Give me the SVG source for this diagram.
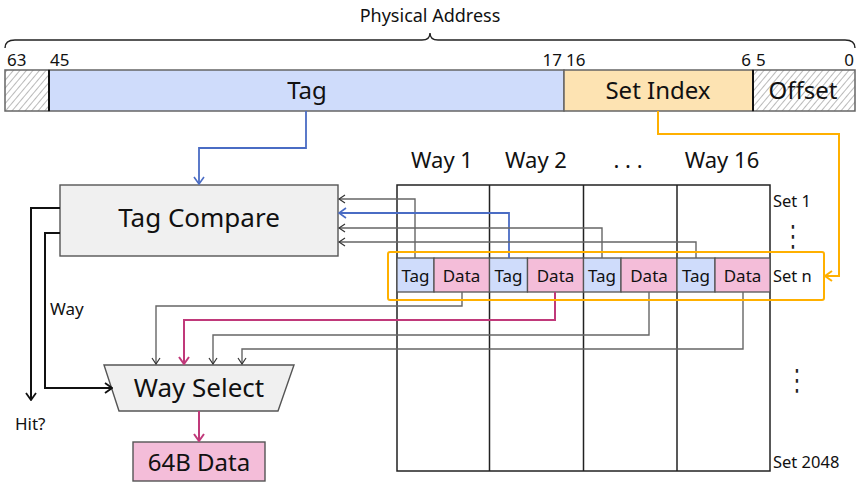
<svg xmlns="http://www.w3.org/2000/svg" width="858" height="482" viewBox="0 0 858 482">
  <style>
    text { font-family: "Noto Sans", "DejaVu Sans", sans-serif; fill: #111; }
    .mid { text-anchor: middle; }
    .end { text-anchor: end; }
    .bit { font-size: 17px; }
    .title { font-size: 18px; }
    .field { font-size: 24px; }
    .head { font-size: 22px; }
    .cell { font-size: 17px; }
    .set { font-size: 16.5px; }
    .dots { font-family: "DejaVu Sans", sans-serif; font-size: 21px; text-anchor: middle; fill: #222; }
    .lab { font-size: 17px; }
    .big { font-size: 26px; }
    .bar { stroke: #666; stroke-width: 1.5; }
    .grid { fill: none; stroke: #222; stroke-width: 1.5; }
    .gray { fill: none; stroke: #666; stroke-width: 1.4; }
    .blue { fill: none; stroke: #4a6cc4; stroke-width: 1.8; }
    .mag { fill: none; stroke: #c0397a; stroke-width: 2; }
    .blk { fill: none; stroke: #111; stroke-width: 2; }
    .org { fill: none; stroke: #ffb000; stroke-width: 2; }
  </style>
  <defs>
    <pattern id="hatch" patternUnits="userSpaceOnUse" width="5" height="5" patternTransform="rotate(40)">
      <line x1="0" y1="0" x2="0" y2="5" stroke="#666" stroke-width="0.9"/>
    </pattern>
    <marker id="aGray" markerUnits="userSpaceOnUse" viewBox="-8 -5 9 10" refX="0" refY="0" markerWidth="9" markerHeight="10" orient="auto">
      <path d="M-6,-4 L0,0 L-6,4" fill="none" stroke="#333" stroke-width="1.2"/>
    </marker>
    <marker id="aBlue" markerUnits="userSpaceOnUse" viewBox="-9 -6 10 12" refX="0" refY="0" markerWidth="10" markerHeight="12" orient="auto">
      <path d="M-7,-5 L0,0 L-7,5" fill="none" stroke="#4a6cc4" stroke-width="1.6"/>
    </marker>
    <marker id="aMag" markerUnits="userSpaceOnUse" viewBox="-9 -6 10 12" refX="0" refY="0" markerWidth="10" markerHeight="12" orient="auto">
      <path d="M-7,-5 L0,0 L-7,5" fill="none" stroke="#c0397a" stroke-width="2"/>
    </marker>
    <marker id="aBlk" markerUnits="userSpaceOnUse" viewBox="-9 -6 10 12" refX="0" refY="0" markerWidth="10" markerHeight="12" orient="auto">
      <path d="M-7,-5 L0,0 L-7,5" fill="none" stroke="#111" stroke-width="1.8"/>
    </marker>
    <marker id="aOrg" markerUnits="userSpaceOnUse" viewBox="-9 -6 10 12" refX="0" refY="0" markerWidth="10" markerHeight="12" orient="auto">
      <path d="M-7,-5 L0,0 L-7,5" fill="none" stroke="#ffb000" stroke-width="2"/>
    </marker>
  </defs>

  <!-- physical address layout -->
  <g id="address">
    <text class="title mid" x="430" y="22">Physical Address</text>
    <path d="M5,48 Q5,40 15,40 L422,40 Q430,40 430,33 Q430,40 438,40 L845,40 Q855,40 855,48" fill="none" stroke="#222" stroke-width="1.4"/>
    <text class="bit" x="7" y="66">63</text>
    <text class="bit" x="50" y="66">45</text>
    <text class="bit end" x="562" y="66">17</text>
    <text class="bit" x="566" y="66">16</text>
    <text class="bit end" x="751" y="66">6</text>
    <text class="bit" x="756" y="66">5</text>
    <text class="bit end" x="854" y="66">0</text>
  </g>
  <g id="field-unused">
    <rect class="bar" x="5" y="70" width="44" height="41" fill="url(#hatch)"/>
  </g>
  <g id="field-tag">
    <rect class="bar" x="49" y="70" width="515" height="41" fill="#cfdcfb"/>
    <text class="field mid" x="307" y="99">Tag</text>
  </g>
  <g id="field-set-index">
    <rect class="bar" x="564" y="70" width="189" height="41" fill="#fde3b2"/>
    <text class="field mid" x="658" y="99">Set Index</text>
  </g>
  <g id="field-offset">
    <rect class="bar" x="753" y="70" width="102" height="41" fill="url(#hatch)"/>
    <text class="field mid" x="803" y="99">Offset</text>
  </g>
  <line x1="49" y1="70" x2="49" y2="111" stroke="#111" stroke-width="2"/>
  <line x1="753" y1="70" x2="753" y2="111" stroke="#111" stroke-width="2"/>

  <!-- cache array: 16 ways x 2048 sets -->
  <g id="cache-array">
    <text class="head mid" x="442" y="168">Way 1</text>
    <text class="head mid" x="536" y="168">Way 2</text>
    <text class="head mid" x="628" y="168">. . .</text>
    <text class="head mid" x="722" y="168">Way 16</text>
    <rect class="grid" x="397" y="185" width="373" height="286"/>
    <line class="grid" x1="489.5" y1="185" x2="489.5" y2="471"/>
    <line class="grid" x1="583.5" y1="185" x2="583.5" y2="471"/>
    <line class="grid" x1="677" y1="185" x2="677" y2="471"/>
  </g>
  <g id="set-n">
    <g stroke="#555" stroke-width="1.3">
      <rect x="397" y="258" width="37" height="34" fill="#cfdcfb"/>
      <rect x="434" y="258" width="55.5" height="34" fill="#f4bdd9"/>
      <rect x="489.5" y="258" width="38" height="34" fill="#cfdcfb"/>
      <rect x="527.5" y="258" width="56" height="34" fill="#f4bdd9"/>
      <rect x="583.5" y="258" width="37.5" height="34" fill="#cfdcfb"/>
      <rect x="621" y="258" width="56" height="34" fill="#f4bdd9"/>
      <rect x="677" y="258" width="38" height="34" fill="#cfdcfb"/>
      <rect x="715" y="258" width="55" height="34" fill="#f4bdd9"/>
    </g>
    <text class="cell mid" x="415.5" y="282">Tag</text>
    <text class="cell mid" x="461.5" y="282">Data</text>
    <text class="cell mid" x="508.5" y="282">Tag</text>
    <text class="cell mid" x="555.5" y="282">Data</text>
    <text class="cell mid" x="602" y="282">Tag</text>
    <text class="cell mid" x="649" y="282">Data</text>
    <text class="cell mid" x="696" y="282">Tag</text>
    <text class="cell mid" x="742.5" y="282">Data</text>
  </g>
  <g id="set-labels">
    <text class="set" x="773" y="207">Set 1</text>
    <text class="dots" transform="translate(793,246) scale(1,1.4)">⋮</text>
    <text class="set" x="773" y="282">Set n</text>
    <text class="dots" transform="translate(797,390) scale(1,1.4)">⋮</text>
    <text class="set" x="773" y="468">Set 2048</text>
  </g>

  <!-- comparators and selector -->
  <g id="tag-compare">
    <rect x="60" y="185" width="278" height="71" fill="#f0f0f0" stroke="#555" stroke-width="1.4"/>
    <text class="big mid" x="199" y="227">Tag Compare</text>
  </g>
  <g id="way-select">
    <polygon points="104,365 294,365 278,411 119,411" fill="#f0f0f0" stroke="#555" stroke-width="1.4"/>
    <text class="big mid" x="199" y="397">Way Select</text>
  </g>
  <g id="data-out">
    <rect x="133" y="442" width="132" height="39" fill="#f4bdd9" stroke="#555" stroke-width="1.4"/>
    <text class="field mid" x="199" y="471">64B Data</text>
  </g>
  <g id="side-labels">
    <text class="lab" x="50" y="315">Way</text>
    <text class="lab" x="15" y="430">Hit?</text>
  </g>

  <!-- connectors -->
  <g id="connectors">
    <polyline class="blue" points="306,111 306,148 199,148 199,184" marker-end="url(#aBlue)"/>
    <polyline class="org" points="658,111 658,134 839,134 839,276 825,276" marker-end="url(#aOrg)"/>

    <polyline class="gray" points="415,258 415,199 339,199" marker-end="url(#aGray)"/>
    <polyline class="blue" points="509,258 509,213 339,213" marker-end="url(#aBlue)"/>
    <polyline class="gray" points="602,258 602,228 339,228" marker-end="url(#aGray)"/>
    <polyline class="gray" points="696,258 696,242 339,242" marker-end="url(#aGray)"/>

    <polyline class="gray" points="462,292 462,306 156,306 156,364" marker-end="url(#aGray)"/>
    <polyline class="mag" points="555,292 555,320 184,320 184,364" marker-end="url(#aMag)"/>
    <polyline class="gray" points="649,292 649,335 213,335 213,364" marker-end="url(#aGray)"/>
    <polyline class="gray" points="743,292 743,349 242,349 242,364" marker-end="url(#aGray)"/>

    <polyline class="blk" points="60,208 31,208 31,400" marker-end="url(#aBlk)"/>
    <polyline class="blk" points="60,233 45,233 45,388 112,388" marker-end="url(#aBlk)"/>
    <polyline class="mag" points="199,411 199,441" marker-end="url(#aMag)"/>
  </g>

  <rect id="set-n-highlight" x="388" y="252" width="436" height="48" rx="2" class="org"/>
</svg>
